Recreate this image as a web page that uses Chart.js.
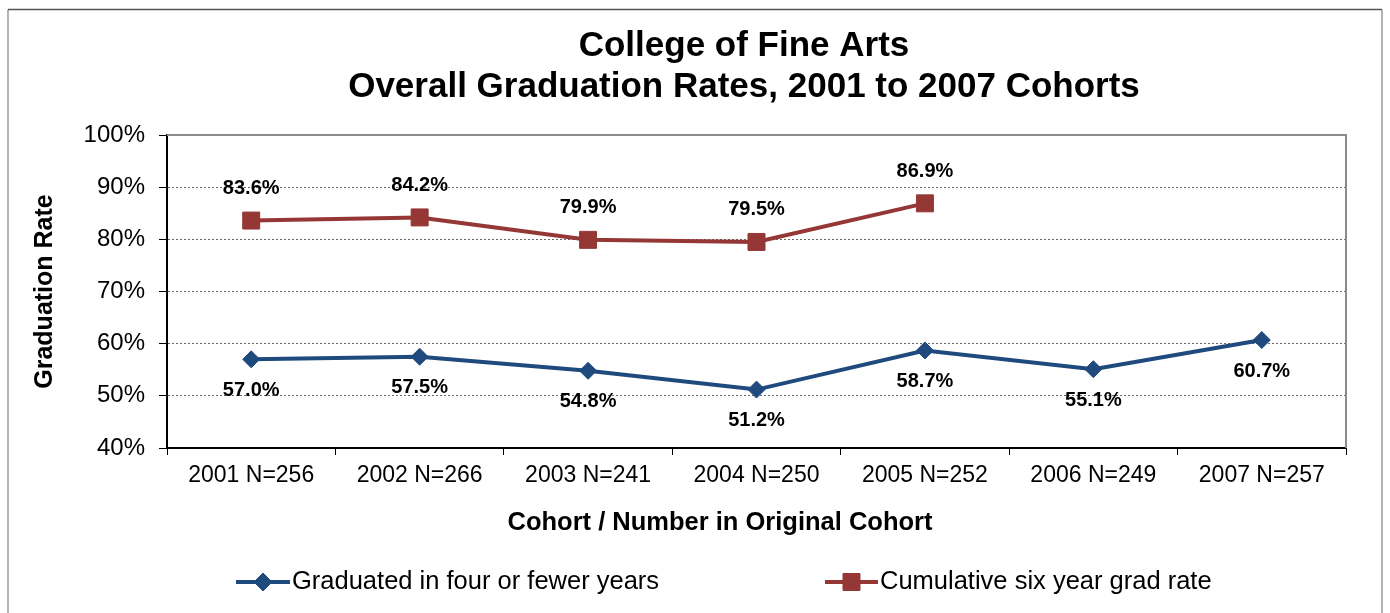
<!DOCTYPE html>
<html>
<head>
<meta charset="utf-8">
<script src="https://cdn.jsdelivr.net/npm/chart.js@4"></script>
<style>
html,body{margin:0;padding:0;background:#fff;}
canvas{display:block;}
</style>
</head>
<body>
<canvas id="c" width="1390" height="613"></canvas>
<script>
const titleLines = ["College of Fine Arts", "Overall Graduation Rates, 2001 to 2007 Cohorts"];
const categories = ["2001 N=256", "2002 N=266", "2003 N=241", "2004 N=250", "2005 N=252", "2006 N=249", "2007 N=257"];
const fourYear = [57.0, 57.5, 54.8, 51.2, 58.7, 55.1, 60.7];
const sixYear = [83.6, 84.2, 79.9, 79.5, 86.9, null, null];
const seriesNames = ["Graduated in four or fewer years", "Cumulative six year grad rate"];
const yTitle = "Graduation Rate";
const xTitle = "Cohort / Number in Original Cohort";

const BLUE = '#1F4A7E';
const RED = '#953735';
const FONT = '"Liberation Sans", Arial, sans-serif';

const decor = {
  id: 'decor',
  beforeDraw(chart) {
    const ctx = chart.ctx;
    ctx.save();
    ctx.fillStyle = '#fff';
    ctx.fillRect(0, 0, chart.width, chart.height);
    ctx.lineWidth = 1.5;
    ctx.strokeStyle = '#9a9a9a';
    ctx.beginPath();
    ctx.moveTo(8, 640); ctx.lineTo(8, 9.5);
    ctx.moveTo(1382, 9.5); ctx.lineTo(1382, 640);
    ctx.stroke();
    ctx.strokeStyle = '#555';
    ctx.beginPath();
    ctx.moveTo(8, 9.5); ctx.lineTo(1382, 9.5);
    ctx.stroke();
    ctx.restore();
  },
  beforeDatasetsDraw(chart) {
    const ctx = chart.ctx;
    const a = chart.chartArea;
    ctx.save();
    ctx.strokeStyle = '#8c8c8c';
    ctx.lineWidth = 2;
    ctx.beginPath();
    ctx.moveTo(a.left, a.top); ctx.lineTo(a.right, a.top); ctx.lineTo(a.right, a.bottom);
    ctx.stroke();
    ctx.restore();
  },
  afterDatasetsDraw(chart) {
    const ctx = chart.ctx;
    ctx.save();
    ctx.font = 'bold 20px ' + FONT;
    ctx.fillStyle = '#000';
    ctx.textAlign = 'center';
    ctx.textBaseline = 'middle';
    const offsets = [31, -32];
    chart.data.datasets.forEach((ds, i) => {
      const meta = chart.getDatasetMeta(i);
      meta.data.forEach((pt, j) => {
        const v = ds.data[j];
        if (v === null || v === undefined) return;
        ctx.fillText(v.toFixed(1) + '%', pt.x, pt.y + offsets[i]);
      });
    });
    ctx.restore();
  },
  afterDraw(chart) {
    const ctx = chart.ctx;
    ctx.save();
    ctx.fillStyle = '#000';
    ctx.textAlign = 'center';
    ctx.textBaseline = 'middle';
    ctx.font = 'bold 35px ' + FONT;
    ctx.fillText(titleLines[0], 744, 46);
    ctx.fillText(titleLines[1], 744, 87);
    ctx.font = 'bold 25.5px ' + FONT;
    ctx.fillText(xTitle, 720, 523);
    const items = [
      {x0: 236, x1: 290, tx: 292, color: BLUE, style: 'rectRot', r: 9},
      {x0: 825, x1: 878, tx: 880, color: RED, style: 'rect', r: 12}
    ];
    const ly = 582;
    ctx.font = '25.5px ' + FONT;
    ctx.textAlign = 'left';
    items.forEach((it, i) => {
      ctx.strokeStyle = it.color;
      ctx.lineWidth = 4;
      ctx.beginPath();
      ctx.moveTo(it.x0, ly); ctx.lineTo(it.x1, ly);
      ctx.stroke();
      ctx.fillStyle = it.color;
      ctx.lineWidth = 1;
      Chart.helpers.drawPoint(ctx, {pointStyle: it.style, radius: it.r, borderWidth: 1}, (it.x0 + it.x1) / 2, ly);
      ctx.fill();
      ctx.fillStyle = '#000';
      ctx.fillText(seriesNames[i], it.tx, ly);
    });
    ctx.restore();
  }
};

new Chart(document.getElementById('c'), {
  type: 'line',
  data: {
    labels: categories,
    datasets: [
      {
        label: seriesNames[0],
        data: fourYear,
        borderColor: BLUE,
        backgroundColor: BLUE,
        borderWidth: 4,
        pointStyle: 'rectRot',
        pointRadius: 8.5,
        pointHoverRadius: 8.5,
        pointBorderWidth: 1,
        tension: 0
      },
      {
        label: seriesNames[1],
        data: sixYear,
        borderColor: RED,
        backgroundColor: RED,
        borderWidth: 4,
        pointStyle: 'rect',
        pointRadius: 12,
        pointHoverRadius: 12,
        pointBorderWidth: 1,
        tension: 0
      }
    ]
  },
  options: {
    responsive: false,
    animation: false,
    events: [],
    layout: { padding: { left: 20, top: 135, right: 44, bottom: 115 } },
    plugins: { legend: { display: false }, title: { display: false }, tooltip: { enabled: false } },
    scales: {
      x: {
        type: 'category',
        offset: true,
        afterFit(s) { s.height = 50; },
        border: { display: true, color: '#000', width: 2 },
        grid: { display: true, drawOnChartArea: false, drawTicks: true, offset: true, tickLength: 7, tickColor: '#000', tickWidth: 1 },
        ticks: { color: '#000', font: { family: FONT, size: 23 }, padding: 7, maxRotation: 0, autoSkip: false }
      },
      y: {
        min: 40,
        max: 100,
        afterFit(s) { s.width = 147; },
        border: { display: true, color: '#000', width: 2, dash: [2, 2] },
        grid: {
          color: '#666',
          lineWidth: 1,
          drawTicks: true,
          tickLength: 8,
          tickColor: '#000',
          tickWidth: 1,
          tickBorderDash: []
        },
        ticks: {
          stepSize: 10,
          color: '#000',
          font: { family: FONT, size: 24 },
          padding: 14,
          callback: (v) => v + '%'
        },
        title: {
          display: true,
          text: yTitle,
          color: '#000',
          font: { family: FONT, size: 25, weight: 'bold' },
          padding: { top: 10, bottom: 0 }
        }
      }
    }
  },
  plugins: [decor]
});
</script>
</body>
</html>
